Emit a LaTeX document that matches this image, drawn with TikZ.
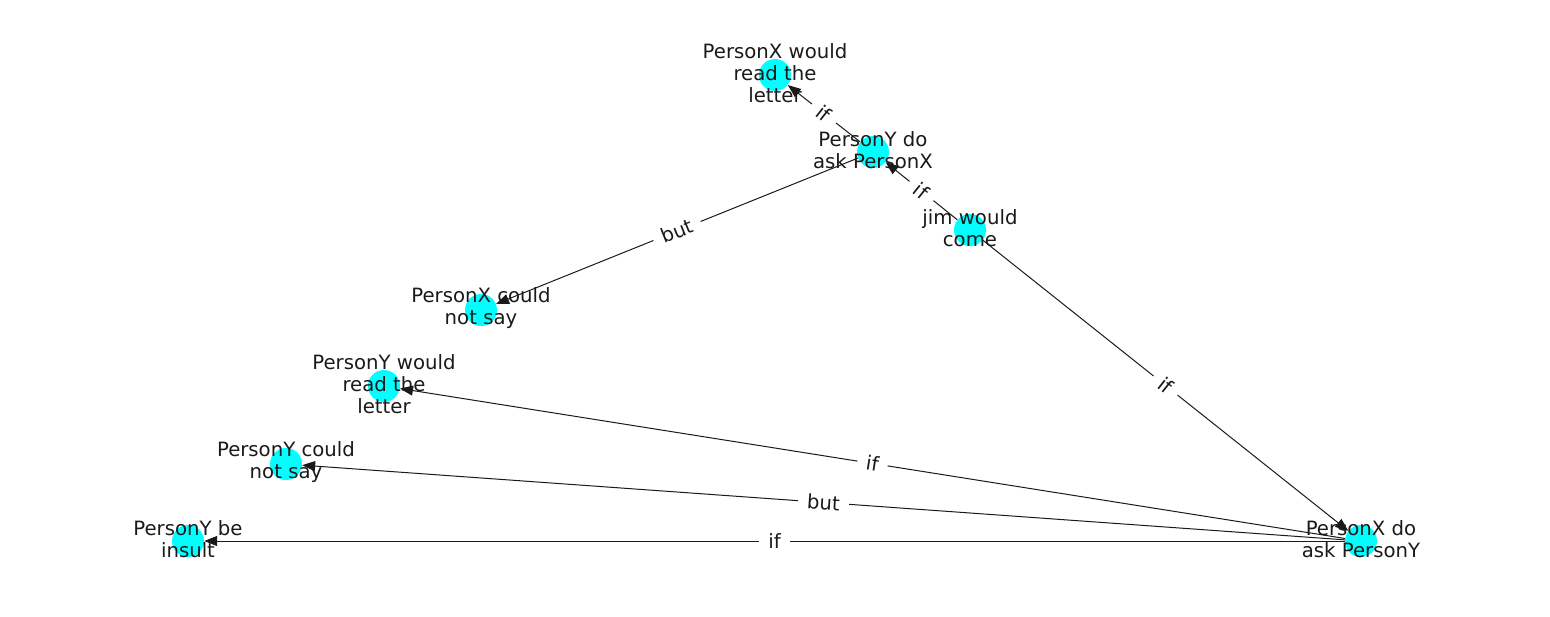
\documentclass[tikz,border=0pt]{standalone}
\usepackage{fontspec}
\setmainfont{DejaVu Sans}
\usetikzlibrary{arrows.meta}
\definecolor{vertexfill}{RGB}{0,255,255}
\definecolor{ink}{RGB}{26,26,26}
\pgfdeclarelayer{background}
\pgfsetlayers{background,main}
\begin{document}
\begin{tikzpicture}[x=1pt,y=-1pt,
  vertex/.style={circle,fill=vertexfill,minimum size=32pt,inner sep=0pt},
  caption/.style={font=\fontsize{19.7}{22}\selectfont,align=center,text=ink,yshift=2pt},
  link/.style={draw=ink,line width=1pt,-{Triangle[length=13pt,width=10pt]}},
  tag/.style={font=\fontsize{19.7}{22}\selectfont,text=ink,fill=white,sloped,midway,inner xsep=9pt,inner ysep=4pt}]
\useasboundingbox (0,0) rectangle (1550,616);

% vertices
\node[vertex] (pxread) at (775,75) {};
\node[vertex] (pyask)  at (873,152) {};
\node[vertex] (jim)    at (970,230) {};
\node[vertex] (pxsay)  at (481,310) {};
\node[vertex] (pyread) at (384,386) {};
\node[vertex] (pysay)  at (286,464) {};
\node[vertex] (pyins)  at (188,541) {};
\node[vertex] (pxask)  at (1361,541) {};

% connectors
\begin{pgfonlayer}{background}
\draw[link] (jim) -- node[tag] {if} (pyask);
\draw[link] (pyask) -- node[tag] {if} (pxread);
\draw[link] (pyask) -- node[tag] {but} (pxsay);
\draw[link] (jim) -- node[tag] {if} (pxask);
\draw[link] (pxask) -- node[tag] {if} (pyread);
\draw[link] (pxask) -- node[tag] {but} (pysay);
\draw[link] (pxask) -- node[tag] {if} (pyins);
\end{pgfonlayer}

% vertex captions
\node[caption] at (pxread) {PersonX would\\read the\\letter};
\node[caption] at (pyask)  {PersonY do\\ask PersonX};
\node[caption] at (jim)    {jim would\\come};
\node[caption] at (pxsay)  {PersonX could\\not say};
\node[caption] at (pyread) {PersonY would\\read the\\letter};
\node[caption] at (pysay)  {PersonY could\\not say};
\node[caption] at (pyins)  {PersonY be\\insult};
\node[caption] at (pxask)  {PersonX do\\ask PersonY};
\end{tikzpicture}
\end{document}
